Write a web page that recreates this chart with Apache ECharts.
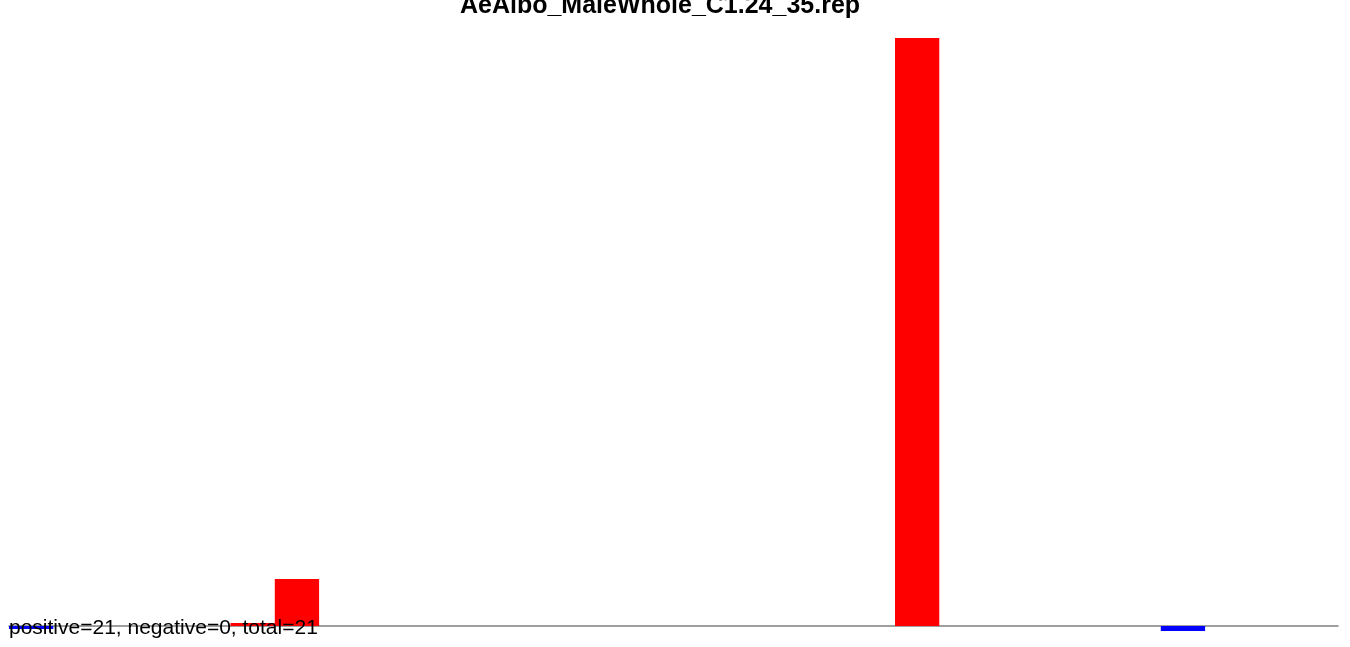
<!DOCTYPE html>
<html>
<head>
<meta charset="utf-8">
<script src="https://cdn.jsdelivr.net/npm/echarts@6/dist/echarts.min.js"></script>
<style>html,body{margin:0;padding:0;background:#fff}#c{width:1350px;height:647px}</style>
</head>
<body>
<div id="c"></div>
<script>
const titleText = "AeAlbo_MaleWhole_C1.24_35.rep";
const summaryText = "positive=21, negative=0, total=21";
const categories = Array.from({length: 30}, (_, i) => String(i + 1));
const values = [-0.5, 0, 0, 0, 0, 0.5, 8.0, 0, 0, 0, 0, 0, 0, 0, 0, 0, 0, 0, 0, 0, 100, 0, 0, 0, 0, 0, -0.85, 0, 0, 0];
const posColor = "#ff0000";
const negColor = "#0000ff";

const chart = echarts.init(document.getElementById('c'), null, {renderer: 'canvas'});
chart.setOption({
  animation: false,
  backgroundColor: '#ffffff',
  grid: {left: 9, right: 12, top: 38, bottom: 15.12, containLabel: false},
  xAxis: {
    type: 'category', data: categories,
    axisLine: {show: true, onZero: true, lineStyle: {color: '#808080', width: 1.5}},
    axisTick: {show: false}, axisLabel: {show: false}, splitLine: {show: false}
  },
  yAxis: {type: 'value', min: -1, max: 100, show: false, splitLine: {show: false}},
  series: [{
    type: 'bar',
    data: values.map(v => ({value: v, itemStyle: {color: v >= 0 ? posColor : negColor}})),
    barCategoryGap: '0%'
  }],
  graphic: [
    {type: 'text', x: 660, y: -6, style: {text: titleText, align: 'center', verticalAlign: 'top', font: 'bold 25px "Liberation Sans", Arial, sans-serif', fill: '#000'}},
    {type: 'text', x: 9, y: 618, z: 100, style: {text: summaryText, verticalAlign: 'top', font: '21px "Liberation Sans", Arial, sans-serif', fill: '#000'}}
  ]
});
</script>
</body>
</html>
